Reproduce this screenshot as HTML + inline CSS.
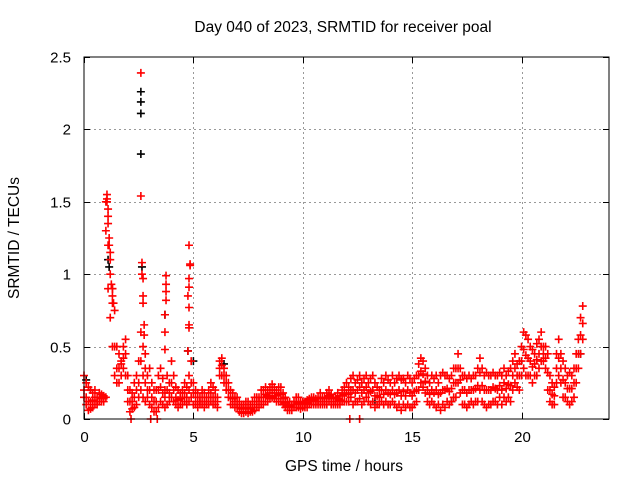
<!DOCTYPE html>
<html><head><meta charset="utf-8"><style>
body{margin:0;background:#fff}
svg{display:block;font-family:"Liberation Sans",sans-serif}
</style></head><body>
<svg id="chart" width="640" height="480" viewBox="0 0 640 480">
<rect width="640" height="480" fill="#fff"/>
<text x="343" y="32" font-size="15.5" text-anchor="middle">Day 040 of 2023, SRMTID for receiver poal</text>
<g id="grid"></g>
<g id="marks"></g>
<rect x="84" y="57" width="525" height="362" fill="none" stroke="#000" stroke-width="1"/>
<g id="ticks"></g>
<text transform="translate(19,238) rotate(-90)" font-size="15.5" text-anchor="middle">SRMTID / TECUs</text>
<text x="344" y="471" font-size="15.5" text-anchor="middle">GPS time / hours</text>
</svg>
<script>
const xTicks=[0,5,10,15,20];
const yTicks=[0,0.5,1,1.5,2,2.5];
const yTickLabels=["0","0.5","1","1.5","2","2.5"];
const t0=0, tStep=0.1;
const redHi=[.3,.25,.22,.2,.18,.2,.15,.18,.17,.16, 1.5,1.4,1.15,.9,.75,.5,.45,.4,.5,.55, .3,.2,.18,.25,.3,.4,.6,.5,.35,.3, .35,.25,.2,.2,.3,.35,.28,.2,.3,.25, .4,.3,.22,.2,.18,.2,.25,.22,.3,.4, .25,.2,.18,.15,.2,.18,.15,.2,.25,.22, .2,.15,.4,.42,.35,.3,.25,.2,.18,.15, .15,.12,.1,.1,.12,.12,.1,.12,.15,.15, .15,.2,.2,.22,.2,.22,.24,.22,.2,.22, .22,.18,.15,.12,.12,.1,.12,.15,.15,.12, .12,.12,.13,.14,.15,.15,.14,.15,.18,.15, .15,.18,.2,.17,.15,.15,.18,.16,.2,.22, .25,.22,.28,.3,.25,.27,.3,.25,.28,.3, .25,.28,.3,.25,.22,.2,.28,.25,.3,.27, .25,.3,.25,.28,.3,.27,.28,.25,.3,.28, .25,.28,.3,.38,.42,.4,.35,.3,.25,.3, .28,.3,.25,.3,.32,.3,.3,.28,.3,.35, .35,.45,.35,.3,.3,.28,.3,.28,.3,.3, .35,.42,.35,.3,.32,.3,.3,.32,.3,.3, .32,.3,.35,.3,.33,.35,.4,.45,.38,.4, .5,.6,.58,.55,.5,.48,.45,.52,.55,.6, .5,.5,.45,.3,.25,.22,.45,.55,.45,.4, .35,.3,.32,.3,.35,.45,.55,.7,.78];
const redMid=[.15,.15,.12,.12,.13,.15,.12,.15,.14,.14, 1.3,1.2,1.0,.8,.5,.35,.35,.38,.42,.45, .2,.12,.12,.15,.2,.25,.4,.3,.25,.2, .2,.15,.12,.12,.2,.22,.18,.15,.2,.18, .25,.2,.15,.13,.14,.15,.18,.15,.2,.25, .18,.15,.12,.12,.15,.12,.12,.15,.18,.15, .15,.12,.35,.37,.3,.25,.2,.15,.14,.12, .1,.08,.07,.07,.08,.08,.07,.08,.1,.12, .12,.15,.15,.17,.16,.18,.2,.18,.16,.17, .17,.14,.11,.09,.09,.08,.1,.12,.11,.1, .1,.1,.11,.12,.12,.13,.12,.12,.14,.12, .12,.14,.16,.14,.12,.12,.14,.13,.16,.17, .18,.17,.2,.2,.18,.2,.22,.18,.2,.22, .18,.19,.2,.16,.16,.15,.2,.17,.2,.18, .17,.2,.17,.18,.2,.16,.19,.16,.2,.18, .16,.19,.2,.3,.33,.31,.26,.2,.17,.2, .18,.2,.17,.18,.2,.2,.21,.19,.21,.25, .25,.35,.27,.2,.2,.18,.2,.2,.2,.21, .23,.32,.23,.2,.2,.2,.2,.22,.21,.2, .23,.2,.25,.21,.24,.23,.3,.35,.3,.3, .4,.48,.44,.42,.4,.36,.38,.41,.45,.5, .45,.42,.32,.2,.17,.16,.35,.42,.35,.27, .25,.21,.21,.21,.25,.35,.45,.58,.66];
const redLo=[.2,.1,.06,.07,.08,.1,.1,.12,.12,.12, .15,.9,.7,.5,.3,.25,.25,.3,.35,.3, .12,.05,.07,.08,.1,.15,.2,.15,.12,.15, .1,.08,.05,.05,.08,.12,.1,.08,.1,.12, .15,.12,.1,.08,.1,.1,.12,.1,.12,.15, .1,.1,.08,.1,.1,.08,.1,.1,.12,.1, .1,.08,.3,.3,.25,.2,.15,.1,.1,.08, .08,.05,.04,.04,.05,.04,.05,.05,.06,.08, .08,.1,.1,.12,.12,.14,.15,.14,.12,.12, .12,.1,.08,.06,.06,.06,.08,.08,.08,.07, .08,.08,.08,.1,.1,.1,.1,.1,.1,.1, .1,.1,.12,.1,.1,.1,.1,.1,.12,.12, .12,.12,.15,.1,.12,.12,.14,.1,.12,.15, .12,.1,.12,.08,.1,.1,.12,.1,.12,.1, .1,.12,.1,.08,.1,.06,.1,.08,.1,.08, .08,.1,.12,.2,.25,.22,.18,.12,.1,.12, .1,.08,.1,.06,.1,.08,.12,.1,.12,.15, .15,.25,.18,.1,.1,.08,.1,.12,.1,.12, .12,.2,.12,.1,.08,.1,.1,.12,.12,.1, .15,.1,.15,.12,.15,.12,.2,.25,.22,.2, .3,.35,.3,.3,.3,.25,.3,.3,.35,.4, .4,.35,.2,.12,.1,.1,.25,.3,.25,.15, .15,.12,.1,.12,.15,.25,.35,.45,.55];
const spikeT=[1.05,1.05,1.05,1.1,1.1,1.15,1.15,1.2,1.25,1.3,1.3,1.35,2.6,2.6,2.65,2.65,2.7,2.7,2.7,2.75,2.75,2.8,3.75,3.75,3.75,3.75,3.7,3.7,3.7,4.8,4.85,4.85,4.8,4.8,4.75,4.8,4.8,4.8,4.75,2.15,3.05,3.35,12.15,12.6];
const spikeV=[1.55,1.52,1.5,1.45,1.35,1.25,1.2,1.1,0.93,0.9,0.85,0.8,2.39,1.54,1.08,1.0,0.97,0.85,0.8,0.65,0.58,0.45,0.99,0.93,0.88,0.82,0.72,0.6,0.48,1.2,1.07,1.06,0.97,0.91,0.85,0.77,0.65,0.63,0.47,0,0,0,0,0];
const blackT=[2.6,2.6,2.6,2.6,2.65,1.1,1.15,3.7,4.75,5.0,0.1,0.3,6.4,13.3,16.8,22.7];
const blackV=[2.26,2.19,2.11,1.83,1.05,1.1,1.05,0.72,0.47,0.4,0.27,0.2,0.38,0.12,0.12,0.45];
const xMin=0,xMax=24,yMin=0,yMax=2.5;
const L=84,R=609,T=57,B=419;
const sx=v=>L+(v-xMin)/(xMax-xMin)*(R-L);
const sy=v=>B-(v-yMin)/(yMax-yMin)*(B-T);
const NS="http://www.w3.org/2000/svg";
const grid=document.getElementById('grid'),ticks=document.getElementById('ticks'),marks=document.getElementById('marks');
function ln(g,x1,y1,x2,y2,st,dash){const e=document.createElementNS(NS,'line');e.setAttribute('x1',x1);e.setAttribute('y1',y1);e.setAttribute('x2',x2);e.setAttribute('y2',y2);e.setAttribute('stroke',st);if(dash)e.setAttribute('stroke-dasharray',dash);g.appendChild(e);return e;}
function tx(g,x,y,s,anchor){const e=document.createElementNS(NS,'text');e.setAttribute('x',x);e.setAttribute('y',y);e.setAttribute('font-size','15');e.setAttribute('text-anchor',anchor);e.textContent=s;g.appendChild(e);return e;}
xTicks.forEach(v=>{const x=Math.round(sx(v))+0.5;
 if(v>xMin){const g=ln(grid,x,T,x,B,'#999','2,3');}
 ln(ticks,x,B,x,B-6,'#000');ln(ticks,x,T,x,T+6,'#000');
 const t=tx(ticks,x,442,String(v),'middle');
 
 });
yTicks.forEach((v,i)=>{const y=Math.round(sy(v))+0.5;
 if(v>yMin&&v<yMax){const g=ln(grid,L,y,R,y,'#999','2,3');}
 ln(ticks,L,y,L+6,y,'#000');ln(ticks,R,y,R-6,y,'#000');
 const t=tx(ticks,71,y+5,yTickLabels[i],'end');
 
 });
function plus(x,y,c,name){const e=document.createElementNS(NS,'path');
 e.setAttribute('d',`M${x-4},${y}H${x+4}M${x},${y-4}V${y+4}`);
 e.setAttribute('stroke',c);e.setAttribute('stroke-width','1.6');
 
 
 marks.appendChild(e);}
blackT.forEach((t,i)=>plus(sx(t),sy(blackV[i]),'#000','black-point'));
[redHi,redMid,redLo].forEach(arr=>arr.forEach((v,i)=>plus(sx(t0+i*tStep),sy(v),'#f00','red-point')));
spikeT.forEach((t,i)=>plus(sx(t),sy(spikeV[i]),'#f00','red-spike-point'));
</script>
</body></html>
